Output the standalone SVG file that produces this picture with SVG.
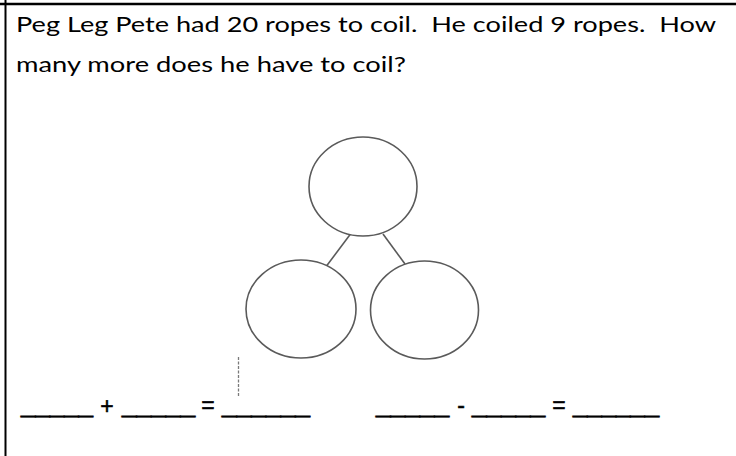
<svg xmlns="http://www.w3.org/2000/svg" width="736" height="456" viewBox="0 0 736 456">
<style>
.t{font-family:Lato,"Liberation Sans",sans-serif;font-size:21px;fill:#000;white-space:pre}
.e{font-family:"Liberation Sans",Arial,sans-serif;font-size:21px;fill:#000}
.s{font-size:23px;stroke:#000;stroke-width:0.5}
.u{stroke:#000;stroke-width:0.7}
.c{fill:#fff;stroke:#5a5a5a;stroke-width:1.6}
</style>
<rect width="736" height="456" fill="#fff"/>
<g id="frame">
<line x1="0" y1="4" x2="736" y2="4" stroke="#000" stroke-width="2.5"/>
<line x1="5.5" y1="0" x2="5.5" y2="456" stroke="#000" stroke-width="2"/>
</g>
<g id="question">
<text class="t" x="16" y="31.5" textLength="700" lengthAdjust="spacingAndGlyphs">Peg Leg Pete had 20 ropes to coil.  He coiled 9 ropes.  How</text>
<text class="t" x="16" y="72" textLength="390" lengthAdjust="spacingAndGlyphs">many more does he have to coil?</text>
</g>
<g id="connectors">
<line x1="350.5" y1="234" x2="326.5" y2="266" stroke="#5a5a5a" stroke-width="1.6"/>
<line x1="383" y1="234" x2="405" y2="264" stroke="#5a5a5a" stroke-width="1.6"/>
</g>
<g id="whole"><ellipse class="c" cx="363" cy="186.5" rx="54" ry="49.5"/></g>
<g id="part1"><ellipse class="c" cx="301" cy="309" rx="55" ry="49"/></g>
<g id="part2"><ellipse class="c" cx="424.5" cy="310" rx="54" ry="49"/></g>
<line x1="238.5" y1="357" x2="238.5" y2="396" stroke="#7a7a7a" stroke-width="1.3" stroke-dasharray="3 1.5"/>
<g id="equations">
<text class="e u" x="21" y="413" textLength="72" lengthAdjust="spacingAndGlyphs">_____</text>
<text class="e s" x="107" y="414" text-anchor="middle">+</text>
<text class="e u" x="122" y="413" textLength="73" lengthAdjust="spacingAndGlyphs">_____</text>
<text class="e s" x="208" y="413" text-anchor="middle">=</text>
<text class="e u" x="222" y="413" textLength="88" lengthAdjust="spacingAndGlyphs">______</text>
<text class="e u" x="376" y="413" textLength="73" lengthAdjust="spacingAndGlyphs">_____</text>
<text class="e s" x="461" y="413" text-anchor="middle">-</text>
<text class="e u" x="472" y="413" textLength="73" lengthAdjust="spacingAndGlyphs">_____</text>
<text class="e s" x="559" y="413" text-anchor="middle">=</text>
<text class="e u" x="573" y="413" textLength="86" lengthAdjust="spacingAndGlyphs">______</text>
</g>
</svg>
